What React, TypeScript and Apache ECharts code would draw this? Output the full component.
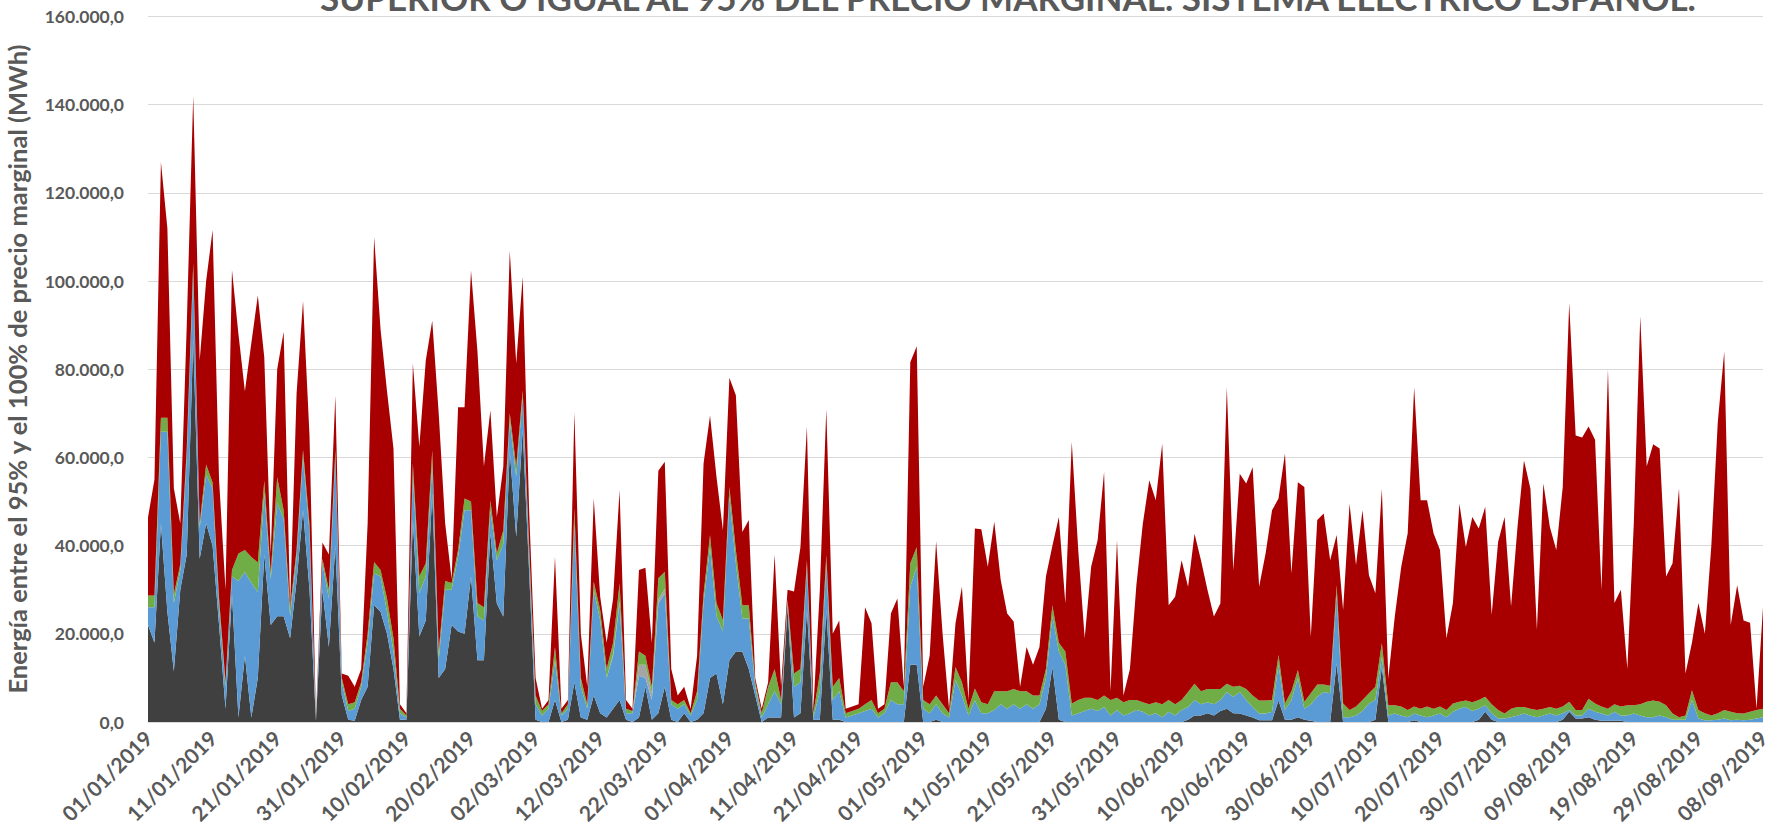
import React, { useEffect, useRef } from "react";
import * as echarts from "echarts";

// Values in thousands of MWh, one per day from 01/01/2019 to 08/09/2019
const darkK: number[] = [
  22, 18, 45, 25, 11.5, 30, 38, 87, 37, 45,
  40, 22, 3, 29, 1, 15, 1, 10, 38, 22,
  24, 24, 19, 32, 48, 30, 0.3, 30, 17, 40,
  6, 0.5, 0.3, 5, 8, 26.5, 25, 20, 12, 0.5,
  0.5, 45.8, 19.4, 23, 51.8, 10, 12, 22, 20.5, 20,
  33, 14, 14, 42.8, 26.9, 23.9, 61.6, 42, 66.2, 34,
  0.5, 0, 0, 5, 0, 0.5, 9, 1, 0.5, 6,
  2, 1, 3, 5, 0.5, 0, 1, 8, 0.5, 2,
  8, 0.5, 0, 2, 0, 0.5, 2, 10, 11, 4,
  14, 16, 16, 12, 6, 0, 1, 1, 1, 26,
  1, 2, 25.4, 0.5, 0.5, 25.4, 0.5, 0.5, 0, 0,
  0, 0, 0, 0, 0, 0, 0, 0, 13, 13,
  0, 0, 0.5, 0, 0, 0, 0, 0, 0, 0,
  0, 0, 0, 0, 0, 0, 0, 0, 0, 3,
  12.5, 0.5, 0, 0, 0, 0, 0, 0, 0, 0,
  0, 0, 0, 0, 0, 0, 0, 0, 0, 0,
  0, 0.5, 1.5, 1.5, 2, 1.5, 2.5, 3, 2, 1.9,
  1.5, 1, 0.4, 0.4, 0.4, 4.9, 0.5, 0.5, 1.1, 0.5,
  0.3, 0, 0, 0, 13.3, 0, 0, 0, 0, 0,
  0.5, 12.5, 0, 0, 0, 0, 0.4, 0, 0, 0,
  0, 0, 0, 0, 0, 0, 0.5, 2.3, 0.5, 0,
  0, 0, 0, 0, 0, 0, 0, 0, 0, 0.5,
  2.3, 0.8, 0.8, 1.1, 0.5, 0.3, 0.3, 0.3, 0.3, 0,
  0, 0, 0, 0, 0, 0, 0, 0, 0, 0,
  0, 0, 0, 0, 0, 0, 0, 0, 0, 0, 0,
];

const blueK: number[] = [
  4, 8, 20.8, 40.8, 15.5, 4.5, 22, 15, 7, 11,
  13, 4, 5, 4, 31, 19, 30.6, 19.5, 14, 10.4,
  25.7, 22, 5, 5.4, 12, 13, 0.2, 6, 11, 20,
  3, 2, 2.7, 3, 10, 7.2, 8, 5, 4, 1.5,
  0.5, 10.5, 9.8, 10, 6.8, 4, 18, 8, 17, 28,
  15, 10, 9, 5.2, 9.8, 16.6, 6.8, 13.6, 7.5, 4,
  3.5, 1.5, 3, 9, 1.5, 2.5, 36, 7, 2.5, 24,
  21, 9, 12, 21.9, 1.5, 2, 9.5, 2, 4.5, 24.9,
  21.2, 3.5, 3, 2, 1.5, 4.5, 25, 29.7, 13, 16.5,
  37, 20, 7.5, 11.5, 2, 1, 3, 6, 3, 1,
  7, 7, 9.8, 0.5, 6.5, 10.6, 4.5, 6.5, 1, 1.5,
  2, 2.5, 3, 1, 2, 5, 4, 4, 17.7, 22.2,
  3, 2, 3.5, 2, 1, 9.5, 6, 1.5, 4.9, 2,
  2, 2.7, 4, 3, 4, 3, 4, 3, 4, 7,
  11.5, 15.5, 13, 1.5, 2, 2.5, 3, 2.5, 3.4, 1.5,
  2.7, 1.5, 2, 2.7, 2.3, 1.5, 2, 1.1, 2.3, 1.5,
  2.7, 2.9, 3.5, 2.5, 2.5, 2.5, 2.5, 3.8, 3.7, 4.9,
  3.5, 2.4, 1.5, 1.5, 1.9, 8.1, 2.2, 4.5, 8.8, 2.5,
  3.7, 5.7, 6.8, 6.5, 15.7, 1.1, 1.1, 1.5, 2.5, 4.2,
  4.5, 2.3, 1.5, 1.9, 1.5, 1.1, 1.5, 1.5, 1.1, 1.5,
  1.9, 1.1, 2.3, 3, 3.4, 2.5, 2.5, 1.5, 1.5, 0.8,
  0.8, 1.1, 1.5, 1.9, 1.5, 1.1, 1.5, 1.9, 1.5, 1.5,
  0.4, 0.7, 0.7, 1.9, 1.8, 1.6, 1.2, 2, 1.2, 1.5,
  1.9, 1.5, 1.1, 1.1, 1.5, 1.1, 0.5, 0.5, 0.5, 5,
  0.8, 0.4, 0.4, 0.5, 0.8, 0.4, 0.5, 0.4, 0.5, 0.8, 1.1,
];

const lightGrayK: number[] = [
  0, 0, 0, 0, 0, 0, 0, 0, 0, 0,
  0, 0, 0, 0, 0, 0, 0, 0, 0, 0,
  0, 0, 0, 0, 0, 0, 0, 0, 0, 0,
  0, 0, 0, 0, 0, 0, 0, 0, 0, 0,
  0, 0, 0, 0, 0, 0, 0, 0, 0, 0,
  0, 0, 0, 0, 0, 0, 0, 0, 0, 0,
  0, 0, 0, 0, 0, 0, 0, 0, 0, 0,
  0, 0, 0.4, 0.5, 0, 0, 2.5, 3, 1.5, 1,
  1, 0, 0, 0, 0, 0, 0, 0, 0, 0,
  0, 0, 0, 0, 0, 0, 0, 0, 0, 0,
  0, 0, 0, 0, 0, 0, 0, 0, 0, 0,
  0, 0, 0, 0, 0, 0, 0, 0, 0, 0,
  0, 0, 0, 0, 0, 0, 0, 0, 0, 0,
  0, 0, 0, 0, 0, 0, 0, 0, 0, 0,
  0, 0, 0, 0, 0, 0, 0, 0, 0, 0,
  0, 0, 0, 0, 0, 0, 0, 0, 0, 0,
  0, 0, 0, 0, 0, 0, 0, 0, 0, 0,
  0, 0, 0, 0, 0, 0, 0, 0, 0, 0,
  0, 0, 0, 0, 0, 0, 0, 0, 0, 0,
  0, 0, 0, 0, 0, 0, 0, 0, 0, 0,
  0, 0, 0, 0, 0, 0, 0, 0, 0, 0,
  0, 0, 0, 0, 0, 0, 0, 0, 0, 0,
  0, 0, 0, 0, 0, 0, 0, 0, 0, 0,
  0, 0, 0, 0, 0, 0, 0, 0, 0, 0,
  0, 0, 0, 0, 0, 0, 0, 0, 0, 0, 0,
];

const greenK: number[] = [
  2.7, 2.7, 3.2, 3.2, 2, 1.2, 2, 2, 1, 2.4,
  1.3, 2, 1, 1.5, 6.2, 5, 5.8, 6.7, 2.7, 1.3,
  5.8, 2, 1.8, 1.6, 1.7, 1.8, 0.3, 1, 2, 1.7,
  1, 1.5, 1.5, 1, 2, 2.6, 1.5, 3, 3, 1,
  0.5, 2.3, 3.8, 3, 3, 2, 2, 1.5, 1.5, 2.7,
  2, 3, 3, 2.3, 1.5, 3, 1.6, 2.3, 1.5, 2,
  2, 1, 1, 3, 0.5, 1, 3.4, 2, 1, 1.8,
  2.4, 2, 2.6, 4, 1, 0.5, 3, 2, 1.5, 4.7,
  3.9, 1, 1, 1, 0.5, 2, 2, 2.7, 3, 2.6,
  2.3, 3, 3, 3, 1, 1, 4, 5, 1, 0.7,
  3, 3, 1.5, 1, 4, 1.9, 3, 3, 1, 1,
  1, 1.5, 2, 1, 1, 4, 5, 3, 5.3, 4.5,
  2, 2, 2, 2, 1, 3, 3, 1.5, 2.7, 2.5,
  2, 4.3, 3, 4, 3.5, 4, 3, 3, 2, 2,
  2.5, 2, 3, 2.7, 3, 3, 2.5, 2.5, 2.6, 3.5,
  2.8, 3, 3, 2.3, 2.2, 2.5, 2.5, 2.9, 2.7, 2.5,
  2.3, 3.4, 3.7, 3, 3, 3.5, 2.5, 1.9, 2.3, 1.4,
  2.5, 2.6, 3, 3, 2.7, 2.2, 1.5, 2, 1.9, 1.6,
  2.5, 2.8, 1.7, 1.7, 2, 3.1, 1.6, 2, 2.5, 2.3,
  3, 3.1, 2.3, 1.9, 2, 1.6, 1.6, 1.5, 2.4, 1.5,
  1.6, 1.6, 1.9, 1.6, 1.5, 2, 2, 1.9, 2, 1.9,
  1.1, 1.9, 1.9, 1.5, 1.5, 1.6, 1.5, 1.5, 1.5, 1.5,
  1.9, 1.2, 1.2, 2.3, 1.9, 1.6, 1.5, 1.7, 2, 2.3,
  1.9, 2.5, 3.5, 3.8, 3.1, 2.7, 1.4, 0.6, 1, 2.2,
  1.9, 1.6, 1.1, 1.5, 1.9, 1.9, 1.5, 1.5, 1.8, 1.9, 1.9,
];

const redK: number[] = [
  17.7, 26.3, 58, 43, 24, 9.3, 28, 38, 37, 41.6,
  57.3, 27, 21, 68, 49.8, 36, 48.6, 60.5, 28, 4.5,
  24.5, 40.5, 0.7, 35.5, 33.8, 20.2, 0.2, 3.7, 8, 12.3,
  1, 6.5, 3.5, 3, 25, 73.7, 54.5, 47, 43, 1,
  0.5, 22.7, 29.4, 46, 29.4, 54, 13, 1, 32.4, 20.7,
  52.4, 57, 32, 20.4, 8.3, 14.4, 36.9, 23.4, 25.7, 8,
  4, 0.5, 1, 20.5, 1, 1, 21.9, 10, 4, 18.9,
  3, 6, 10, 21.2, 2, 0.5, 18.5, 20, 10, 24.4,
  24.9, 7, 2, 3, 1, 8, 29.6, 27.1, 28.6, 20.4,
  24.8, 35.1, 16.6, 19.3, 1, 1, 1, 26, 3, 2.3,
  18.6, 27.7, 30.3, 1, 19, 33.1, 12, 13, 1, 1,
  1, 22, 17.4, 1, 1, 15.6, 19, 1, 45.6, 45.5,
  3, 11, 35, 16, 1, 9.9, 21.7, 2, 36.3, 39.2,
  31.2, 38.4, 25.2, 17.6, 15.3, 1, 10, 7, 11, 21,
  13.5, 28.5, 10.9, 59.3, 34, 13.5, 29.7, 36.2, 50.7, 2,
  35.7, 1.5, 7, 26, 40.5, 50.8, 45.8, 59.1, 21.5, 24.4,
  31.7, 23.9, 34, 29.7, 22.5, 16.4, 19.4, 67.3, 26.4, 48.1,
  46.6, 51.8, 25.8, 33.3, 43, 35.5, 56.7, 26.7, 42.6, 48.7,
  12.8, 37.3, 38.8, 28.5, 11.4, 21.2, 46.8, 32.1, 43, 26.8,
  21.2, 35, 6.2, 20.1, 31.7, 40.1, 72.4, 47.3, 46.8, 39.8,
  35.5, 16.3, 22.8, 44.9, 34.8, 42, 38.9, 43.1, 20.3, 38.2,
  44.6, 23.2, 40.9, 55.9, 49.9, 18.2, 51.1, 40.9, 36, 49.8,
  90.4, 62.3, 61.8, 61.7, 59.8, 26.5, 77, 23, 26.5, 8.2,
  41.2, 88, 53.4, 58.1, 57.4, 29.2, 34.1, 51.9, 9.5, 10.8,
  24.3, 18, 38.5, 66, 81.3, 19.7, 29, 21.1, 20.2, 0.3, 23,
];

const START_DATE = Date.UTC(2019, 0, 1);
const DAY_COUNT = 251;
const pad = (n: number) => (n < 10 ? "0" + n : String(n));
const categories: string[] = Array.from({ length: DAY_COUNT }, (_, i) => {
  const d = new Date(START_DATE + i * 86400000);
  return `${pad(d.getUTCDate())}/${pad(d.getUTCMonth() + 1)}/${d.getUTCFullYear()}`;
});

const TITLE = "SUPERIOR O IGUAL AL 95% DEL PRECIO MARGINAL. SISTEMA ELÉCTRICO ESPAÑOL.";
const Y_NAME = "Energía entre el 95% y el 100% de precio marginal (MWh)";
const FONT = "Lato, 'Open Sans', sans-serif";
const TEXT_COLOR = "#595959";

const fmtY = (v: number) =>
  String(Math.round(v)).replace(/\B(?=(\d{3})+(?!\d))/g, ".") + ",0";

const toMWh = (arr: number[]) => arr.map((v) => Math.round(v * 1000));

const seriesDefs = [
  { name: "S1", data: darkK, color: "#404040" },
  { name: "S2", data: blueK, color: "#5B9BD5" },
  { name: "S3", data: lightGrayK, color: "#A5A5A5" },
  { name: "S4", data: greenK, color: "#70AD47" },
  { name: "S5", data: redK, color: "#A80000" },
];

export default function App() {
  const ref = useRef<HTMLDivElement>(null);

  useEffect(() => {
    if (!ref.current) return;
    const chart = echarts.init(ref.current, undefined, { renderer: "svg" });
    chart.setOption({
      animation: false,
      backgroundColor: "#ffffff",
      grid: { left: 148, right: 18, top: 16.5, bottom: 105, containLabel: false },
      xAxis: {
        type: "category",
        boundaryGap: false,
        data: categories,
        axisLine: { show: true, lineStyle: { color: "#d9d9d9", width: 1 } },
        axisTick: { show: false },
        splitLine: { show: false },
        axisLabel: {
          interval: 9,
          rotate: 45,
          margin: 12,
          color: TEXT_COLOR,
          fontFamily: FONT,
          fontWeight: "bold",
          fontSize: 21,
        },
      },
      yAxis: {
        type: "value",
        min: 0,
        max: 160000,
        interval: 20000,
        axisLine: { show: false },
        axisTick: { show: false },
        splitLine: { lineStyle: { color: "#d9d9d9", width: 1 } },
        axisLabel: {
          formatter: fmtY,
          margin: 24,
          color: TEXT_COLOR,
          fontFamily: FONT,
          fontWeight: "bold",
          fontSize: 17.5,
        },
      },
      graphic: [
        {
          type: "text",
          x: 1008,
          y: -3,
          style: {
            text: TITLE,
            textAlign: "center",
            textVerticalAlign: "middle",
            verticalAlign: "middle",
            fill: TEXT_COLOR,
            font: `bold 35px ${FONT}`,
          },
        },
        {
          type: "text",
          x: 17,
          y: 369,
          rotation: Math.PI / 2,
          style: {
            text: Y_NAME,
            textAlign: "center",
            textVerticalAlign: "middle",
            verticalAlign: "middle",
            fill: TEXT_COLOR,
            font: `bold 25.5px ${FONT}`,
          },
        },
      ],
      series: seriesDefs.map((s) => ({
        name: s.name,
        type: "line",
        stack: "total",
        data: toMWh(s.data),
        symbol: "none",
        showSymbol: false,
        smooth: false,
        lineStyle: { width: 0, color: s.color },
        itemStyle: { color: s.color },
        areaStyle: { color: s.color, opacity: 1 },
        emphasis: { disabled: true },
      })),
    });
    return () => chart.dispose();
  }, []);

  return (
    <div
      ref={ref}
      style={{ position: "fixed", left: 0, top: 0, width: "1781px", height: "827px", background: "#fff" }}
    />
  );
}
